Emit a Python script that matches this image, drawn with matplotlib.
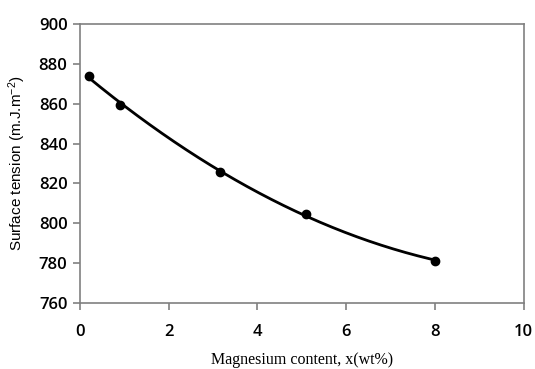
import numpy as np
import matplotlib
matplotlib.use("Agg")
import matplotlib.pyplot as plt

plt.rcParams["mathtext.fontset"] = "custom"
plt.rcParams["mathtext.rm"] = "Liberation Sans"
plt.rcParams["mathtext.default"] = "rm"

# Data
mg_content = [0.2, 0.9, 3.15, 5.1, 8.0]
surface_tension = [874.1, 859.4, 825.7, 804.6, 781.2]

x_ticks = [0, 2, 4, 6, 8, 10]
y_ticks = [760, 780, 800, 820, 840, 860, 880, 900]

fig = plt.figure(figsize=(5.35, 3.69), dpi=100)
ax = fig.add_axes([0.1495, 0.179, 0.8295, 0.756])

# polynomial trendline through the measured points
coeffs = np.polyfit(mg_content, surface_tension, 2)
x_fit = np.linspace(min(mg_content), max(mg_content), 200)
ax.plot(x_fit, np.polyval(coeffs, x_fit), color="black", linewidth=2)
ax.plot(mg_content, surface_tension, "o", color="black", markersize=6)

ax.set_xlim(0, 10)
ax.set_ylim(760, 900)
ax.set_xticks(x_ticks)
ax.set_yticks(y_ticks)

for s in ax.spines.values():
    s.set_color("#808080")
    s.set_linewidth(1.2)
ax.tick_params(direction="out", length=5, width=1.2, color="#808080",
               labelsize=12, pad=4)
ax.tick_params(axis="x", pad=10)
for lbl in ax.get_xticklabels() + ax.get_yticklabels():
    lbl.set_family("Open Sans")
    lbl.set_weight("semibold")
    lbl.set_color("black")

ax.set_xlabel("Magnesium content, x(wt%)", family="Liberation Serif",
              fontsize=11.5, labelpad=9)
ax.set_ylabel("Surface tension (m.J.m$^{-2}$)", family="Liberation Sans",
              fontsize=11, labelpad=8)

fig.savefig("out.png", dpi=100)
